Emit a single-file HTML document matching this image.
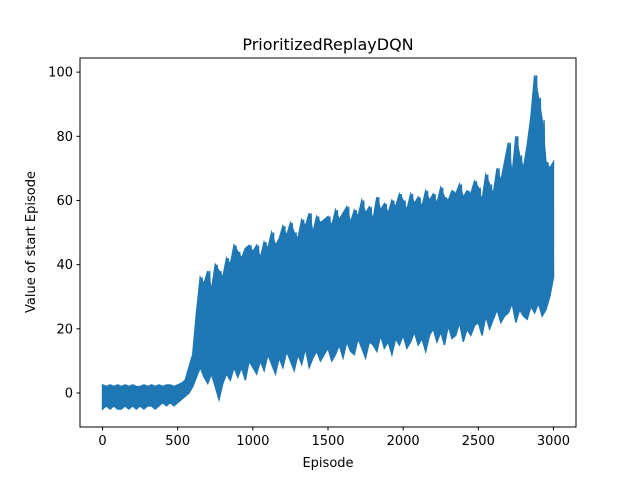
<!DOCTYPE html>
<html><head><meta charset="utf-8"><style>
html,body{margin:0;padding:0;background:#fff;}
svg text{font-family:"DejaVu Sans","Liberation Sans",sans-serif;fill:#000;}
</style></head><body>
<svg id="chart" width="640" height="480" xmlns="http://www.w3.org/2000/svg">
<rect width="640" height="480" fill="#fff"/>
<g id="plot"></g>
<rect x="80" y="58" width="496" height="369" fill="none" stroke="#000" stroke-width="1"/>
<g id="axes"></g>
<text x="328" y="50" font-size="16" text-anchor="middle">PrioritizedReplayDQN</text>
<text x="328" y="467" font-size="13" text-anchor="middle">Episode</text>
<text transform="translate(35,242) rotate(-90)" font-size="13" text-anchor="middle">Value of start Episode</text>
</svg>
<script>
const episodeStep = 25;
const lows = [-5,-4,-5,-4,-5,-5,-4,-5,-4,-5,-4,-5,-4,-4,-5,-4,-3,-4,-3,-4,-3,-2,-1,0,
2,5,8,5,3,6,2,-2,3,6,4,8,5,8,4,10,
8,6,10,7,12,9,6,11,8,13,10,7,12,9,14,8,11,13,10,12,
14,10,12,15,11,16,13,12,17,14,11,16,15,13,18,14,16,12,17,15,
18,14,16,19,15,17,13,18,20,16,19,15,21,17,18,22,16,20,18,21,
22,18,24,20,23,26,22,24,25,28,22,26,24,23,27,25,28,24,26,30,36];
const highs = [2.5,2,2.5,2,2.5,2,2.5,2,2.5,2,2,2.5,2,2.5,2,2.5,2,2.5,2.5,2,2.5,3,4,8,
12,25,36,34,38,32,40,38,36,42,40,46,44,42,45,46,
44,46,42,47,45,50,46,48,52,49,53,50,48,54,52,56,50,55,53,54,
55,52,57,54,56,58,53,57,55,60,56,58,54,61,57,59,56,60,58,62,
60,57,62,59,61,58,63,60,62,59,64,61,60,63,62,65,61,63,62,66,
64,60,68,65,62,70,66,72,78,68,80,74,70,77,86,99,92,85,72,70,72];
const xTicks = [0,500,1000,1500,2000,2500,3000];
const yTicks = [0,20,40,60,80,100];

const xMin=-150, xMax=3150, yMin=-10.6, yMax=104.4;
const L=80,R=576,T=58,B=427;
function xs(v){return L+(v-xMin)/(xMax-xMin)*(R-L);}
function ys(v){return B-(v-yMin)/(yMax-yMin)*(B-T);}
const NS="http://www.w3.org/2000/svg";
const plot=document.getElementById('plot'), axes=document.getElementById('axes');
const upperPts=[], lowerPts=[], linePts=[];
for(let i=0;i<lows.length;i++){
  const e=Math.min(i*episodeStep,3000);
  upperPts.push(xs(e).toFixed(2)+","+ys(highs[i]).toFixed(2));
  lowerPts.unshift(xs(e).toFixed(2)+","+ys(lows[i]).toFixed(2));
  linePts.push(xs(e).toFixed(2)+","+ys(lows[i]).toFixed(2));
  if(i<lows.length-1) linePts.push(xs(e+episodeStep/2).toFixed(2)+","+ys(highs[i]).toFixed(2));
}
const band=document.createElementNS(NS,'polygon');


band.setAttribute('points',upperPts.concat(lowerPts).join(' '));
band.setAttribute('fill','#1f77b4');band.setAttribute('stroke','#1f77b4');band.setAttribute('stroke-width','1.5');
plot.appendChild(band);
const pl=document.createElementNS(NS,'polyline');


pl.setAttribute('points',linePts.join(' '));
pl.setAttribute('fill','none');pl.setAttribute('stroke','#1f77b4');pl.setAttribute('stroke-width','1.5');
plot.appendChild(pl);
xTicks.forEach(t=>{
  const x=xs(t);
  const ln=document.createElementNS(NS,'line');
  
  
  ln.setAttribute('x1',x);ln.setAttribute('x2',x);ln.setAttribute('y1',B);ln.setAttribute('y2',B+3.5);ln.setAttribute('stroke','#000');
  axes.appendChild(ln);
  const tx=document.createElementNS(NS,'text');
  
  
  tx.setAttribute('x',x);tx.setAttribute('y',B+18);tx.setAttribute('font-size','13');tx.setAttribute('text-anchor','middle');
  tx.textContent=t;axes.appendChild(tx);
});
yTicks.forEach(t=>{
  const y=ys(t);
  const ln=document.createElementNS(NS,'line');
  
  
  ln.setAttribute('x1',L-3.5);ln.setAttribute('x2',L);ln.setAttribute('y1',y);ln.setAttribute('y2',y);ln.setAttribute('stroke','#000');
  axes.appendChild(ln);
  const tx=document.createElementNS(NS,'text');
  
  
  tx.setAttribute('x',L-7);tx.setAttribute('y',y+4.5);tx.setAttribute('font-size','13');tx.setAttribute('text-anchor','end');
  tx.textContent=t;axes.appendChild(tx);
});
</script>
</body></html>
